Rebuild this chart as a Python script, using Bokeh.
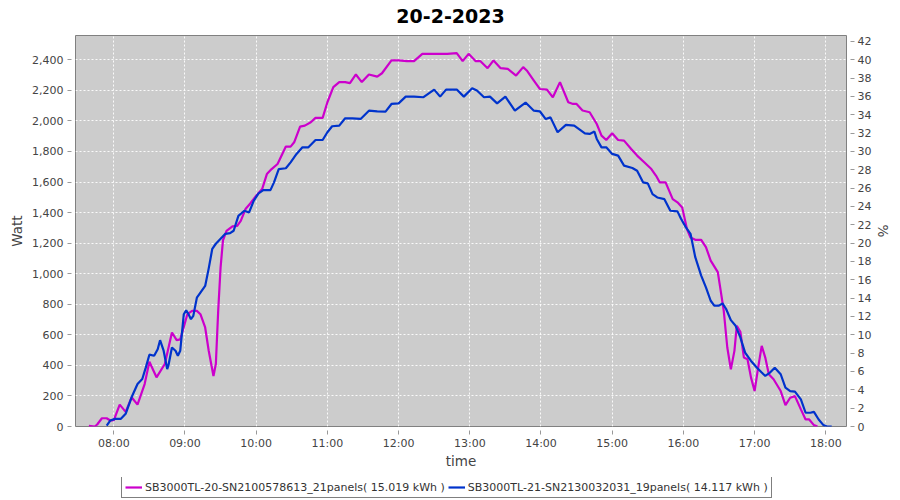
import pandas as pd
from bokeh.plotting import figure
from bokeh.layouts import column
from bokeh.models import (ColumnDataSource, Range1d, LinearAxis, SingleIntervalTicker,
                          DatetimeTickFormatter, NumeralTickFormatter, Legend, LegendItem, Label)
from bokeh.core.properties import value
from bokeh.embed import file_html
from bokeh.resources import INLINE

DAY = "2023-02-20"

# SB3000TL-20 (magenta)
m_time = ["07:39", "07:44", "07:46", "07:50", "07:54", "07:57", "08:00", "08:05", "08:10", "08:15",
          "08:20", "08:26", "08:30", "08:36", "08:43", "08:49", "08:53", "08:56", "09:02", "09:06",
          "09:10", "09:13", "09:17", "09:20", "09:24", "09:26", "09:28", "09:30", "09:32", "09:35",
          "09:40", "09:44", "09:47", "09:51", "09:55", "10:00", "10:05", "10:09", "10:13", "10:18",
          "10:20", "10:25", "10:29", "10:32", "10:37", "10:41", "10:46", "10:50", "10:56", "11:00",
          "11:05", "11:10", "11:15", "11:19", "11:24", "11:29", "11:35", "11:42", "11:46", "11:54",
          "12:00", "12:07", "12:13", "12:20", "12:27", "12:35", "12:41", "12:49", "12:54", "12:59",
          "13:05", "13:09", "13:15", "13:20", "13:26", "13:32", "13:39", "13:45", "13:48", "13:54",
          "13:59", "14:05", "14:10", "14:16", "14:23", "14:27", "14:30", "14:35", "14:41", "14:47",
          "14:51", "14:55", "15:00", "15:05", "15:10", "15:16", "15:21", "15:27", "15:33", "15:37",
          "15:40", "15:45", "15:51", "15:55", "15:59", "16:03", "16:06", "16:10", "16:15", "16:19",
          "16:23", "16:29", "16:31", "16:34", "16:37", "16:40", "16:43", "16:45", "16:48", "16:51",
          "16:54", "16:57", "17:00", "17:03", "17:06", "17:09", "17:12", "17:16", "17:22", "17:26",
          "17:30", "17:34", "17:39", "17:43", "17:46", "17:50", "17:53"]
m_watt = [5, 0, 13, 54, 54, 39, 41, 143, 96, 191,
          143, 278, 424, 322, 409, 615, 565, 570, 735, 757,
          757, 735, 648, 496, 331, 409, 760, 1042, 1218, 1280,
          1310, 1313, 1346, 1423, 1460, 1510, 1554, 1652, 1685, 1718,
          1751, 1832, 1832, 1860, 1963, 1969, 1991, 2020, 2020, 2122,
          2221, 2254, 2254, 2247, 2304, 2254, 2304, 2290, 2312, 2396,
          2396, 2391, 2391, 2439, 2439, 2439, 2439, 2444, 2391, 2439,
          2391, 2391, 2345, 2396, 2345, 2341, 2297, 2352, 2330, 2264,
          2209, 2205, 2155, 2254, 2122, 2111, 2111, 2068, 2057, 1980,
          1904, 1875, 1919, 1875, 1871, 1816, 1773, 1729, 1685, 1641,
          1598, 1598, 1488, 1467, 1434, 1292, 1237, 1222, 1222, 1174,
          1086, 1010, 911, 758, 517, 374, 495, 659, 620, 451,
          440, 320, 232, 385, 528, 451, 342, 309, 232, 140,
          188, 199, 112, 46, 46, 9, 0]

# SB3000TL-21 (blue)
b_time = ["07:54", "07:57", "08:01", "08:06", "08:10", "08:15", "08:20", "08:24", "08:27", "08:30",
          "08:34", "08:37", "08:39", "08:42", "08:45", "08:46", "08:49", "08:52", "08:54", "08:56",
          "08:59", "09:01", "09:03", "09:05", "09:07", "09:10", "09:13", "09:17", "09:20", "09:23",
          "09:26", "09:30", "09:34", "09:38", "09:41", "09:45", "09:50", "09:54", "09:58", "10:02",
          "10:06", "10:12", "10:15", "10:19", "10:25", "10:29", "10:34", "10:39", "10:44", "10:50",
          "10:56", "11:00", "11:04", "11:10", "11:15", "11:21", "11:28", "11:35", "11:42", "11:49",
          "11:54", "12:00", "12:06", "12:13", "12:21", "12:30", "12:35", "12:40", "12:49", "12:55",
          "13:02", "13:06", "13:12", "13:17", "13:23", "13:30", "13:38", "13:47", "13:54", "13:59",
          "14:04", "14:08", "14:14", "14:21", "14:28", "14:37", "14:41", "14:45", "14:47", "14:51",
          "14:55", "15:00", "15:05", "15:10", "15:17", "15:21", "15:26", "15:30", "15:34", "15:38",
          "15:44", "15:49", "15:55", "15:58", "16:02", "16:06", "16:10", "16:15", "16:19", "16:23",
          "16:26", "16:30", "16:33", "16:36", "16:40", "16:44", "16:48", "16:52", "16:57", "17:02",
          "17:06", "17:09", "17:13", "17:17", "17:22", "17:26", "17:30", "17:34", "17:39", "17:43",
          "17:47", "17:50", "17:54", "17:58", "18:01", "18:05"]
b_watt = [5, 39, 50, 50, 83, 191, 278, 311, 387, 470,
          463, 506, 565, 496, 376, 398, 517, 496, 463, 496,
          735, 761, 735, 702, 724, 843, 876, 920, 1035, 1163,
          1196, 1229, 1261, 1265, 1281, 1379, 1412, 1401, 1478, 1526,
          1547, 1547, 1598, 1685, 1690, 1729, 1784, 1827, 1827, 1875,
          1875, 1926, 1965, 1969, 2017, 2017, 2013, 2067, 2063, 2061,
          2111, 2115, 2159, 2159, 2155, 2205, 2159, 2205, 2205, 2159,
          2214, 2199, 2155, 2159, 2115, 2159, 2067, 2120, 2067, 2063,
          2012, 2023, 1926, 1974, 1969, 1919, 1915, 1930, 1882, 1827,
          1827, 1784, 1773, 1707, 1692, 1674, 1598, 1591, 1521, 1499,
          1488, 1412, 1408, 1360, 1305, 1261, 1108, 988, 911, 823,
          791, 791, 806, 769, 696, 659, 583, 484, 429, 385,
          353, 331, 353, 385, 342, 254, 232, 228, 177, 90,
          90, 96, 46, 9, 0, 0]

m_label = "SB3000TL-20-SN2100578613_21panels( 15.019 kWh )"
b_label = "SB3000TL-21-SN2130032031_19panels( 14.117 kWh )"
title_text = "20-2-2023"
m_color = "#cc00cc"
b_color = "#0033cc"

x_start = pd.Timestamp(DAY + " 07:27:44")
x_end = pd.Timestamp(DAY + " 18:17:27")
watt_max = 2559
pct_max = watt_max / 60.0

def to_dt(ts):
    return pd.to_datetime([DAY + " " + t for t in ts])

src_m = ColumnDataSource(dict(time=to_dt(m_time), watt=m_watt))
src_b = ColumnDataSource(dict(time=to_dt(b_time), watt=b_watt))

FONT = "DejaVu Sans"
TICK_COL = "#444444"
W = 900

def strip(fig):
    fig.toolbar_location = None
    fig.outline_line_color = None
    fig.background_fill_color = "white"
    fig.border_fill_color = "white"
    fig.min_border = 0
    fig.min_border_left = 0
    fig.min_border_right = 0
    fig.min_border_top = 0
    fig.min_border_bottom = 0

# ---- title strip (35 px); its frame is aligned with the main frame (starts at x=75) ----
top = figure(frame_width=W, frame_height=35, x_axis_type=None, y_axis_type=None,
             output_backend="svg", toolbar_location=None,
             x_range=Range1d(0, 1), y_range=Range1d(0, 1))
strip(top)
top.add_layout(Label(x=375, y=20, x_units="screen", y_units="screen",
                     text=title_text, text_align="center", text_baseline="alphabetic",
                     text_font=FONT, text_font_size="19px", text_font_style="bold",
                     text_color="black"), "center")

# ---- main chart ----
FW, FH = 771, 391
p = figure(x_axis_type="datetime", output_backend="svg", toolbar_location=None,
           frame_width=FW, frame_height=FH,
           min_border_left=75, min_border_right=54, min_border_top=0, min_border_bottom=51,
           x_range=Range1d(x_start, x_end), y_range=Range1d(0, watt_max),
           background_fill_color="#cccccc", border_fill_color="white",
           outline_line_color="#808080")

p.extra_y_ranges = {"pct": Range1d(0, pct_max)}

xticker = SingleIntervalTicker(interval=3600000, num_minor_ticks=0)
yticker = SingleIntervalTicker(interval=200, num_minor_ticks=0)
rticker = SingleIntervalTicker(interval=2, num_minor_ticks=0)

xa = p.xaxis[0]
xa.ticker = xticker
xa.formatter = DatetimeTickFormatter(hours="%H:%M", hourmin="%H:%M", minutes="%H:%M",
                                     minsec="%H:%M", days="%H:%M")
xa.axis_label = "time"

ya = p.yaxis[0]
ya.ticker = yticker
ya.formatter = NumeralTickFormatter(format="0,0")
ya.axis_label = "Watt"

ra = LinearAxis(y_range_name="pct", ticker=rticker, axis_label="%")
p.add_layout(ra, "right")

for ax in (xa, ya, ra):
    ax.axis_line_color = None
    ax.major_tick_in = -4
    ax.major_tick_out = 8
    ax.major_tick_line_color = "#999999"
    ax.minor_tick_line_color = None
    ax.major_label_text_font = FONT
    ax.major_label_text_font_size = "11px"
    ax.major_label_text_color = TICK_COL
    ax.axis_label_text_font = FONT
    ax.axis_label_text_font_size = "13.5px"
    ax.axis_label_text_font_style = "normal"
    ax.axis_label_text_color = TICK_COL

xa.major_label_standoff = 2
xa.axis_label_standoff = 0
ya.major_label_standoff = 4
ya.axis_label_standoff = 4
ra.major_label_standoff = 3
ra.axis_label_standoff = 1

p.xgrid.ticker = xticker
p.ygrid.ticker = yticker
for g in (p.xgrid, p.ygrid):
    g.grid_line_color = "white"
    g.grid_line_dash = "2 2"
    g.grid_line_width = 1
    g.grid_line_alpha = 0.9

p.line("time", "watt", source=src_m, color=m_color, line_width=2.2)
p.line("time", "watt", source=src_b, color=b_color, line_width=2.2)

# ---- legend strip (23 px); same series, out of view, used only for the legend keys ----
leg = figure(frame_width=W, frame_height=23, x_axis_type=None, y_axis_type=None,
             output_backend="svg", toolbar_location=None,
             x_range=Range1d(0, 1), y_range=Range1d(0, 1))
strip(leg)
km = leg.line("time", "watt", source=src_m, color=m_color, line_width=2.2)
kb = leg.line("time", "watt", source=src_b, color=b_color, line_width=2.2)
legend = Legend(items=[LegendItem(label=value(m_label), renderers=[km]),
                       LegendItem(label=value(b_label), renderers=[kb])],
                orientation="horizontal", location=(121, 2),
                border_line_color="black", border_line_width=1,
                background_fill_color="white", background_fill_alpha=1,
                padding=3, margin=0, spacing=3, glyph_width=17, glyph_height=14,
                label_height=14, label_standoff=3,
                label_text_font=FONT, label_text_font_size="11px", label_text_color="#333333")
leg.add_layout(legend, "center")

layout = column(top, p, leg, spacing=0)
open("out.html", "w").write(file_html(layout, INLINE))
